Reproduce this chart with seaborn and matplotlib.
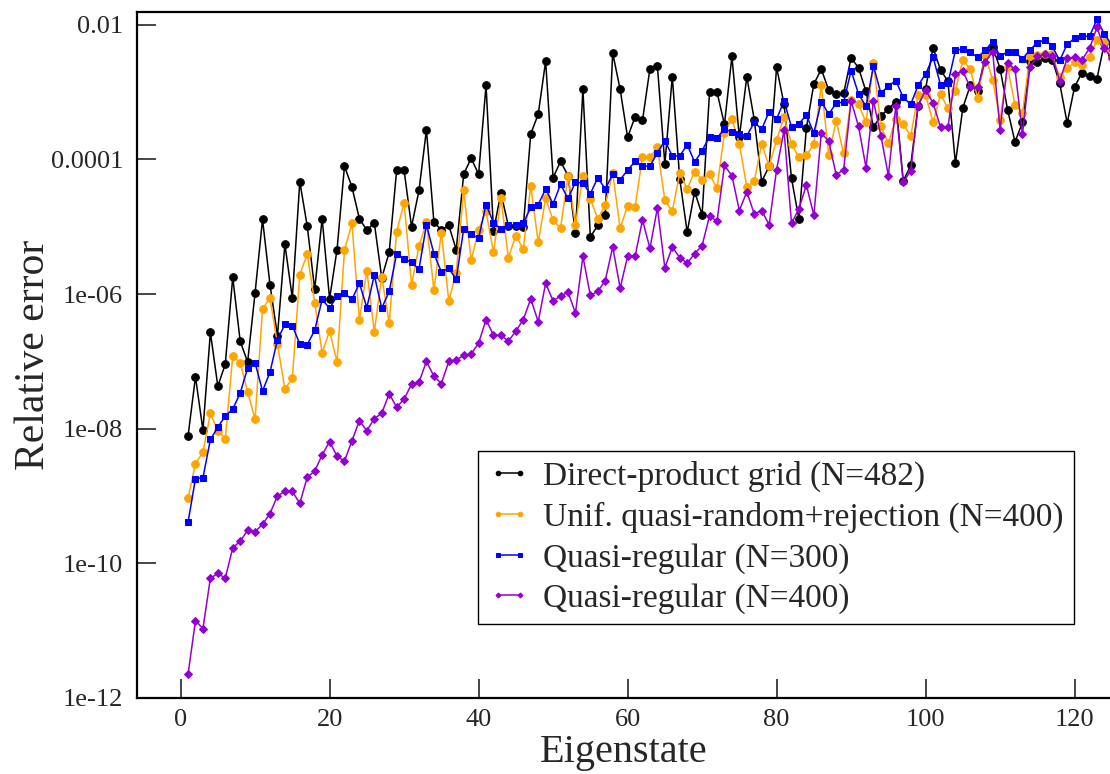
import numpy as np
import pandas as pd
import matplotlib
matplotlib.use('Agg')
import matplotlib.pyplot as plt
import seaborn as sns
from matplotlib.ticker import FixedLocator, NullLocator

# eigenstate index and log10(relative error)
eigenstate = list(range(1, 126))

direct_482 = [
    -8.11, -7.23, -8.02, -6.57, -7.37, -7.04, -5.75, -6.70, -7.01, -5.98,
    -4.89, -5.86, -6.62, -5.26, -6.06, -4.33, -4.99, -5.93, -4.88, -6.07,
    -5.34, -4.10, -4.41, -4.88, -5.05, -4.94, -5.76, -5.38, -4.16, -4.16,
    -5.00, -4.46, -3.56, -4.93, -5.05, -4.98, -5.34, -4.22, -3.98, -4.22,
    -2.90, -5.06, -4.50, -4.99, -4.99, -5.00, -3.62, -3.33, -2.54, -4.27,
    -4.03, -4.24, -5.09, -2.96, -5.15, -4.98, -4.82, -2.42, -2.96, -3.67,
    -3.37, -3.42, -2.65, -2.61, -4.07, -2.77, -4.29, -5.08, -4.48, -4.82,
    -3.00, -3.00, -3.48, -2.47, -3.67, -2.77, -3.41, -4.33, -4.10, -2.63,
    -3.18, -4.28, -4.89, -3.53, -2.88, -2.66, -2.97, -3.03, -3.02, -2.49,
    -2.64, -2.99, -3.52, -3.35, -3.25, -3.14, -4.32, -4.09, -3.20, -2.95,
    -2.34, -2.67, -2.84, -4.06, -3.23, -2.90, -2.99, -2.45, -2.33, -2.65,
    -3.26, -3.74, -3.45, -2.54, -2.55, -2.50, -2.52, -2.87, -3.46, -2.92,
    -2.71, -2.76, -2.80, -2.27, -2.45,
]

unif_400 = [
    -9.03, -8.52, -8.35, -7.77, -8.03, -8.15, -6.92, -7.02, -7.45, -7.86,
    -6.22, -6.06, -6.74, -7.41, -7.25, -5.71, -5.41, -6.13, -6.87, -6.55,
    -7.01, -5.35, -4.95, -6.38, -5.65, -6.56, -5.74, -6.43, -5.08, -4.64,
    -5.86, -5.29, -4.93, -5.94, -5.09, -6.10, -5.68, -4.46, -5.50, -5.05,
    -4.77, -5.38, -4.58, -5.46, -5.13, -5.33, -4.39, -5.23, -4.58, -4.90,
    -5.02, -4.25, -4.97, -4.24, -4.59, -4.88, -4.68, -4.20, -5.02, -4.69,
    -4.71, -3.96, -3.97, -3.82, -4.61, -4.77, -4.20, -4.44, -4.18, -4.30,
    -4.22, -4.43, -3.60, -3.40, -3.77, -4.41, -4.32, -3.77, -4.10, -3.71,
    -3.37, -3.77, -3.97, -3.94, -3.77, -2.90, -3.93, -3.43, -3.91, -3.11,
    -3.18, -3.45, -2.57, -3.51, -3.76, -3.40, -3.48, -3.65, -3.04, -3.04,
    -3.45, -3.03, -3.24, -2.98, -2.52, -2.66, -3.09, -2.45, -2.82, -3.41,
    -2.63, -3.19, -3.31, -2.47, -2.45, -2.44, -2.44, -2.78, -2.64, -2.56,
    -2.59, -2.48, -2.23, -2.25, -2.50,
]

quasi_300 = [
    -9.39, -8.74, -8.73, -8.16, -7.98, -7.81, -7.71, -7.47, -7.10, -7.02,
    -7.44, -7.16, -6.68, -6.45, -6.47, -6.74, -6.75, -6.54, -6.08, -6.21,
    -6.03, -5.99, -6.08, -5.84, -6.20, -5.72, -6.21, -5.96, -5.40, -5.48,
    -5.53, -5.63, -4.97, -5.40, -5.67, -5.62, -5.78, -5.03, -5.11, -5.17,
    -4.67, -4.94, -5.03, -4.98, -4.97, -4.95, -4.71, -4.67, -4.44, -4.66,
    -4.37, -4.58, -4.34, -4.35, -4.51, -4.27, -4.44, -4.22, -4.30, -4.16,
    -4.03, -4.10, -4.10, -3.90, -3.72, -3.95, -3.95, -3.78, -4.04, -3.87,
    -3.66, -3.68, -3.55, -3.59, -3.62, -3.65, -3.45, -3.55, -3.29, -3.40,
    -3.13, -3.52, -3.47, -3.34, -3.61, -3.14, -3.33, -3.16, -3.15, -2.68,
    -3.03, -3.21, -2.61, -3.02, -2.91, -2.83, -3.08, -3.18, -2.90, -2.73,
    -2.48, -2.89, -2.87, -2.38, -2.36, -2.41, -2.48, -2.38, -2.25, -2.47,
    -2.40, -2.40, -2.51, -2.37, -2.27, -2.22, -2.32, -2.53, -2.29, -2.20,
    -2.17, -2.17, -1.92, -2.14, -2.30,
]

quasi_400 = [
    -11.65, -10.85, -10.97, -10.22, -10.15, -10.22, -9.77, -9.67, -9.51, -9.53,
    -9.42, -9.26, -9.00, -8.93, -8.93, -9.11, -8.72, -8.63, -8.39, -8.19,
    -8.41, -8.48, -8.18, -7.88, -8.03, -7.85, -7.77, -7.48, -7.68, -7.56,
    -7.34, -7.31, -7.00, -7.22, -7.33, -7.00, -6.98, -6.91, -6.89, -6.73,
    -6.38, -6.61, -6.61, -6.70, -6.55, -6.38, -6.07, -6.41, -5.84, -6.10,
    -6.03, -5.97, -6.28, -5.44, -6.02, -5.96, -5.80, -5.30, -5.91, -5.44,
    -5.44, -4.90, -5.32, -4.72, -5.61, -5.30, -5.46, -5.54, -5.40, -5.28,
    -4.84, -4.92, -4.09, -4.24, -4.76, -4.48, -4.81, -4.76, -4.97, -4.15,
    -3.57, -4.95, -4.73, -4.38, -4.83, -3.61, -3.73, -4.23, -4.15, -3.13,
    -3.51, -4.12, -3.13, -3.65, -4.24, -3.21, -4.34, -4.17, -3.20, -2.97,
    -3.16, -3.52, -3.52, -2.73, -2.69, -2.93, -2.93, -2.55, -2.40, -3.56,
    -2.57, -2.66, -3.62, -2.63, -2.47, -2.44, -2.47, -2.83, -2.50, -2.48,
    -2.52, -2.35, -2.04, -2.35, -2.50,
]

labels = [
    'Direct-product grid (N=482)',
    'Unif. quasi-random+rejection (N=400)',
    'Quasi-regular (N=300)',
    'Quasi-regular (N=400)',
]
colors = ['black', '#ffa500', '#0000ff', '#9400d3']
markers = ['o', 'o', 's', 'D']
msizes = [5.5, 5.5, 5.0, 4.2]

ytick_vals = [1e-12, 1e-10, 1e-8, 1e-6, 1e-4, 1e-2]
ytick_labels = ['1e-12', '1e-10', '1e-08', '1e-06', '0.0001', '0.01']
xtick_vals = [0, 20, 40, 60, 80, 100, 120]

sns.set_style('ticks')
plt.rcParams['font.family'] = ['Liberation Serif', 'DejaVu Serif']

fig = plt.figure(figsize=(11.1, 7.74), dpi=100)
ax = fig.add_axes([137 / 1110, 1 - 698 / 774, 1 - 137 / 1110, (698 - 12) / 774])

series = [direct_482, unif_400, quasi_300, quasi_400]
for vals, lab, col, mk, ms in zip(series, labels, colors, markers, msizes):
    df = pd.DataFrame({'state': eigenstate, 'err': 10.0 ** np.array(vals)})
    sns.lineplot(data=df, x='state', y='err', ax=ax, color=col, marker=mk,
                 markersize=ms, markeredgecolor=col, linewidth=1.1,
                 label=lab)

ax.set_yscale('log')
ax.set_xlim(-5.85, 124.75)
ax.set_ylim(1e-12, 10 ** -1.81)
ax.yaxis.set_major_locator(FixedLocator(ytick_vals))
ax.set_yticklabels(ytick_labels)
ax.yaxis.set_minor_locator(NullLocator())
ax.set_xticks(xtick_vals)
ax.tick_params(direction='in', length=14, width=1.2, labelsize=19, pad=8)
ax.tick_params(axis='y', pad=10)

for s in ['left', 'bottom', 'top']:
    ax.spines[s].set_linewidth(1.6)
    ax.spines[s].set_color('black')
ax.spines['right'].set_visible(False)

ax.set_xlabel('Eigenstate', fontsize=29, labelpad=2)
ax.set_ylabel('Relative error', fontsize=30)
ax.yaxis.set_label_coords((53 - 137) / 973, 0.5)

leg = ax.legend(loc='upper left', bbox_to_anchor=(478 / 1110, 1 - 451 / 774),
                bbox_transform=fig.transFigure, borderaxespad=0,
                fontsize=24, numpoints=2, markerscale=0.6,
                handlelength=1.25, handletextpad=0.4, labelspacing=0.29,
                borderpad=0.3, fancybox=False, framealpha=1)
leg.get_frame().set_edgecolor('black')
leg.get_frame().set_linewidth(1.0)

fig.savefig('out.png', dpi=100)
